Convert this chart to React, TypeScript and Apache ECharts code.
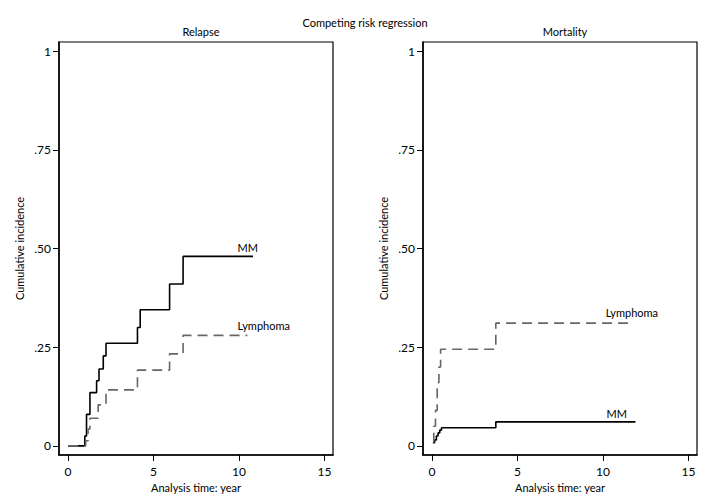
import React, { useEffect, useRef } from "react";
import * as echarts from "echarts";

const xTickValues = [0, 5, 10, 15];
const yTickValues = [0, 0.25, 0.5, 0.75, 1];
const yTickLabels = ["0", ".25", ".50", ".75", "1"];

// Relapse panel (time in years, cumulative incidence after each jump)
const relapseMM: [number, number][] = [
  [0, 0], [0.98, 0.025], [1.08, 0.08], [1.28, 0.135], [1.67, 0.165], [1.81, 0.195],
  [2.06, 0.228], [2.22, 0.26], [4.06, 0.3], [4.22, 0.345], [5.94, 0.41], [6.73, 0.48],
  [10.82, 0.48],
];
const relapseLymphoma: [number, number][] = [
  [0, 0], [1.03, 0.013], [1.17, 0.043], [1.28, 0.07], [1.76, 0.104], [2.22, 0.142],
  [4.06, 0.192], [5.94, 0.233], [6.73, 0.28], [10.49, 0.28],
];
// Mortality panel
const mortalityMM: [number, number][] = [
  [0.05, 0.008], [0.15, 0.015], [0.25, 0.025], [0.35, 0.033], [0.45, 0.04],
  [0.55, 0.046], [3.73, 0.061], [11.9, 0.061],
];
const mortalityLymphoma: [number, number][] = [
  [0.05, 0.01], [0.1, 0.05], [0.2, 0.09], [0.3, 0.16], [0.4, 0.2], [0.5, 0.245],
  [3.73, 0.311], [11.76, 0.311],
];

// label anchors (data coords)
const relapseMMLabel: [number, number] = [10.51, 0.503];
const relapseLymLabel: [number, number] = [11.45, 0.306];
const mortMMLabel: [number, number] = [10.8, 0.083];
const mortLymLabel: [number, number] = [11.69, 0.339];

const FONT = "Lato, 'Liberation Sans', sans-serif";

export default function App() {
  const ref = useRef<HTMLDivElement>(null);
  useEffect(() => {
    if (!ref.current) return;
    const chart = echarts.init(ref.current, undefined, { renderer: "svg" });
    const textStyle = { fontFamily: FONT, fontSize: 11, color: "#000" };

    const makeX = (gridIndex: number) => ({
      type: "value" as const,
      gridIndex,
      min: -0.53,
      max: 15.5,
      splitLine: { show: false },
      axisLine: { show: true, onZero: false, lineStyle: { color: "#000", width: 1.5 } },
      axisTick: { show: true, length: 6, customValues: xTickValues, lineStyle: { color: "#000", width: 1 } },
      axisLabel: { ...textStyle, fontSize: 12, margin: 10, customValues: xTickValues, formatter: (v: number) => String(v) },
      name: "Analysis time: year",
      nameLocation: "middle" as const,
      nameGap: 22,
      nameTextStyle: textStyle,
    });
    const makeY = (gridIndex: number) => ({
      type: "value" as const,
      gridIndex,
      min: -0.023,
      max: 1.023,
      splitLine: { show: false },
      axisLine: { show: true, onZero: false, lineStyle: { color: "#000", width: 1.5 } },
      axisTick: { show: true, length: 6, customValues: yTickValues, lineStyle: { color: "#000", width: 1 } },
      axisLabel: {
        ...textStyle,
        fontSize: 12,
        margin: 8,
        customValues: yTickValues,
        formatter: (v: number) => {
          const i = yTickValues.findIndex((t) => Math.abs(t - v) < 1e-6);
          return i >= 0 ? yTickLabels[i] : "";
        },
      },
      name: "Cumulative incidence",
      nameLocation: "middle" as const,
      nameGap: 34,
      nameRotate: 90,
      nameTextStyle: textStyle,
    });

    const solid = { color: "#000", width: 1.6, type: "solid" as const };
    const dashed = { color: "#666", width: 1.6, type: [10, 6] as any };
    const mp = (coord: [number, number], text: string) => ({
      symbol: "circle",
      symbolSize: 0,
      silent: true,
      label: { show: true, position: "inside" as const, formatter: text, ...textStyle },
      data: [{ coord }],
    });

    chart.setOption({
      animation: false,
      backgroundColor: "#fff",
      title: [
        { text: "Competing risk regression", left: 360, top: 12, textAlign: "center", textStyle: { ...textStyle, fontWeight: "normal" } },
        { text: "Relapse", left: 196, top: 21, textAlign: "center", textStyle: { ...textStyle, fontWeight: "normal" } },
        { text: "Mortality", left: 560, top: 21, textAlign: "center", textStyle: { ...textStyle, fontWeight: "normal" } },
      ],
      grid: [
        { left: 59, top: 42, width: 274, height: 413, show: true, borderColor: "#000", borderWidth: 1.2, backgroundColor: "#fff" },
        { left: 423, top: 42, width: 274, height: 413, show: true, borderColor: "#000", borderWidth: 1.2, backgroundColor: "#fff" },
      ],
      xAxis: [makeX(0), makeX(1)],
      yAxis: [makeY(0), makeY(1)],
      series: [
        { type: "line", xAxisIndex: 0, yAxisIndex: 0, step: "end", symbol: "none", data: relapseMM, lineStyle: solid, markPoint: mp(relapseMMLabel, "MM") },
        { type: "line", xAxisIndex: 0, yAxisIndex: 0, step: "end", symbol: "none", data: relapseLymphoma, lineStyle: dashed, markPoint: mp(relapseLymLabel, "Lymphoma") },
        { type: "line", xAxisIndex: 1, yAxisIndex: 1, step: "end", symbol: "none", data: mortalityMM, lineStyle: solid, markPoint: mp(mortMMLabel, "MM") },
        { type: "line", xAxisIndex: 1, yAxisIndex: 1, step: "end", symbol: "none", data: mortalityLymphoma, lineStyle: dashed, markPoint: mp(mortLymLabel, "Lymphoma") },
      ],
    });
    return () => chart.dispose();
  }, []);
  return <div ref={ref} style={{ position: "fixed", left: 0, top: 0, width: 720, height: 504 }} />;
}
